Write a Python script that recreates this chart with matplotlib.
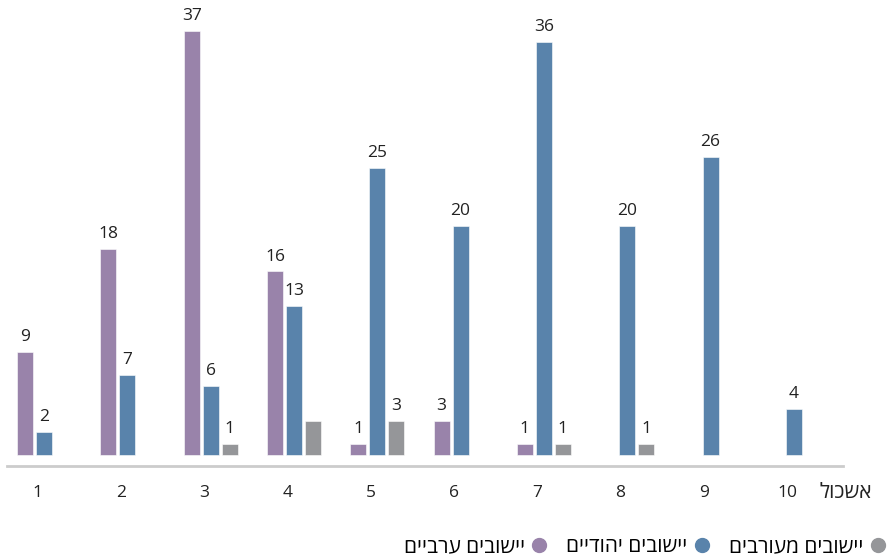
import numpy as np
import matplotlib.pyplot as plt
from matplotlib.lines import Line2D

plt.rcParams['font.family'] = ['Open Sans', 'DejaVu Sans']

# data
clusters = ['1', '2', '3', '4', '5', '6', '7', '8', '9', '10']
arab = [9, 18, 37, 16, 1, 3, 1, 0, 0, 0]
jewish = [2, 7, 6, 13, 25, 20, 36, 20, 26, 4]
mixed = [0, 0, 1, 3, 3, 0, 1, 1, 0, 0]
# label shown in the original for each mixed bar (cluster 4 has none)
mixed_labels = ['', '', '1', '', '3', '', '1', '1', '', '']

series_names = ['יישובים ערביים', 'יישובים יהודיים', 'יישובים מעורבים']
axis_title = 'אשכול'

colors = ['#9983aa', '#5983ab', '#959699']


def heb(s):
    # matplotlib has no bidi support, so flip hebrew strings by hand
    return s[::-1]


fig = plt.figure(figsize=(8.93, 5.59), dpi=100)
ax = fig.add_axes([7 / 893, 1 - 466 / 559, (843 - 7) / 893, (466 - 10) / 559])

x = np.arange(len(clusters))
step = 0.228
width = 0.192

groups = [(arab, -step), (jewish, 0), (mixed, step)]
containers = []
for (vals, off), col in zip(groups, colors):
    bars = ax.bar(x + off, vals, width, color=col, edgecolor='white', linewidth=0.4)
    containers.append(bars)

label_sets = [
    [str(v) if v else '' for v in arab],
    [str(v) if v else '' for v in jewish],
    mixed_labels,
]
for bars, labs in zip(containers, label_sets):
    ax.bar_label(bars, labels=labs, padding=5, fontsize=12.5, color='#222222')

ax.set_xlim(-0.444, 9.59)
ax.set_ylim(-0.96, 38.8)

for side in ['top', 'right', 'left']:
    ax.spines[side].set_visible(False)
ax.spines['bottom'].set_color('#cccccc')
ax.spines['bottom'].set_linewidth(2)
ax.set_yticks([])
ax.set_xticks(x - 0.08)
ax.set_xticklabels(clusters, fontsize=12.5, color='#222222')
ax.tick_params(axis='x', length=0, pad=14)

fig.text(872 / 893, 1 - 492 / 559, heb(axis_title), ha='right', va='center',
         fontsize=15, color='#222222')

handles = [Line2D([], [], marker='o', linestyle='', markersize=10, color=c) for c in colors]
fig.legend(handles, [heb(s) for s in series_names], loc='center right',
           bbox_to_anchor=(897 / 893, 1 - 547 / 559), ncol=3, frameon=False,
           markerfirst=False, handletextpad=0.3, columnspacing=0.9,
           fontsize=15, handlelength=0.8, borderpad=0)

fig.savefig('out.png', dpi=100)
